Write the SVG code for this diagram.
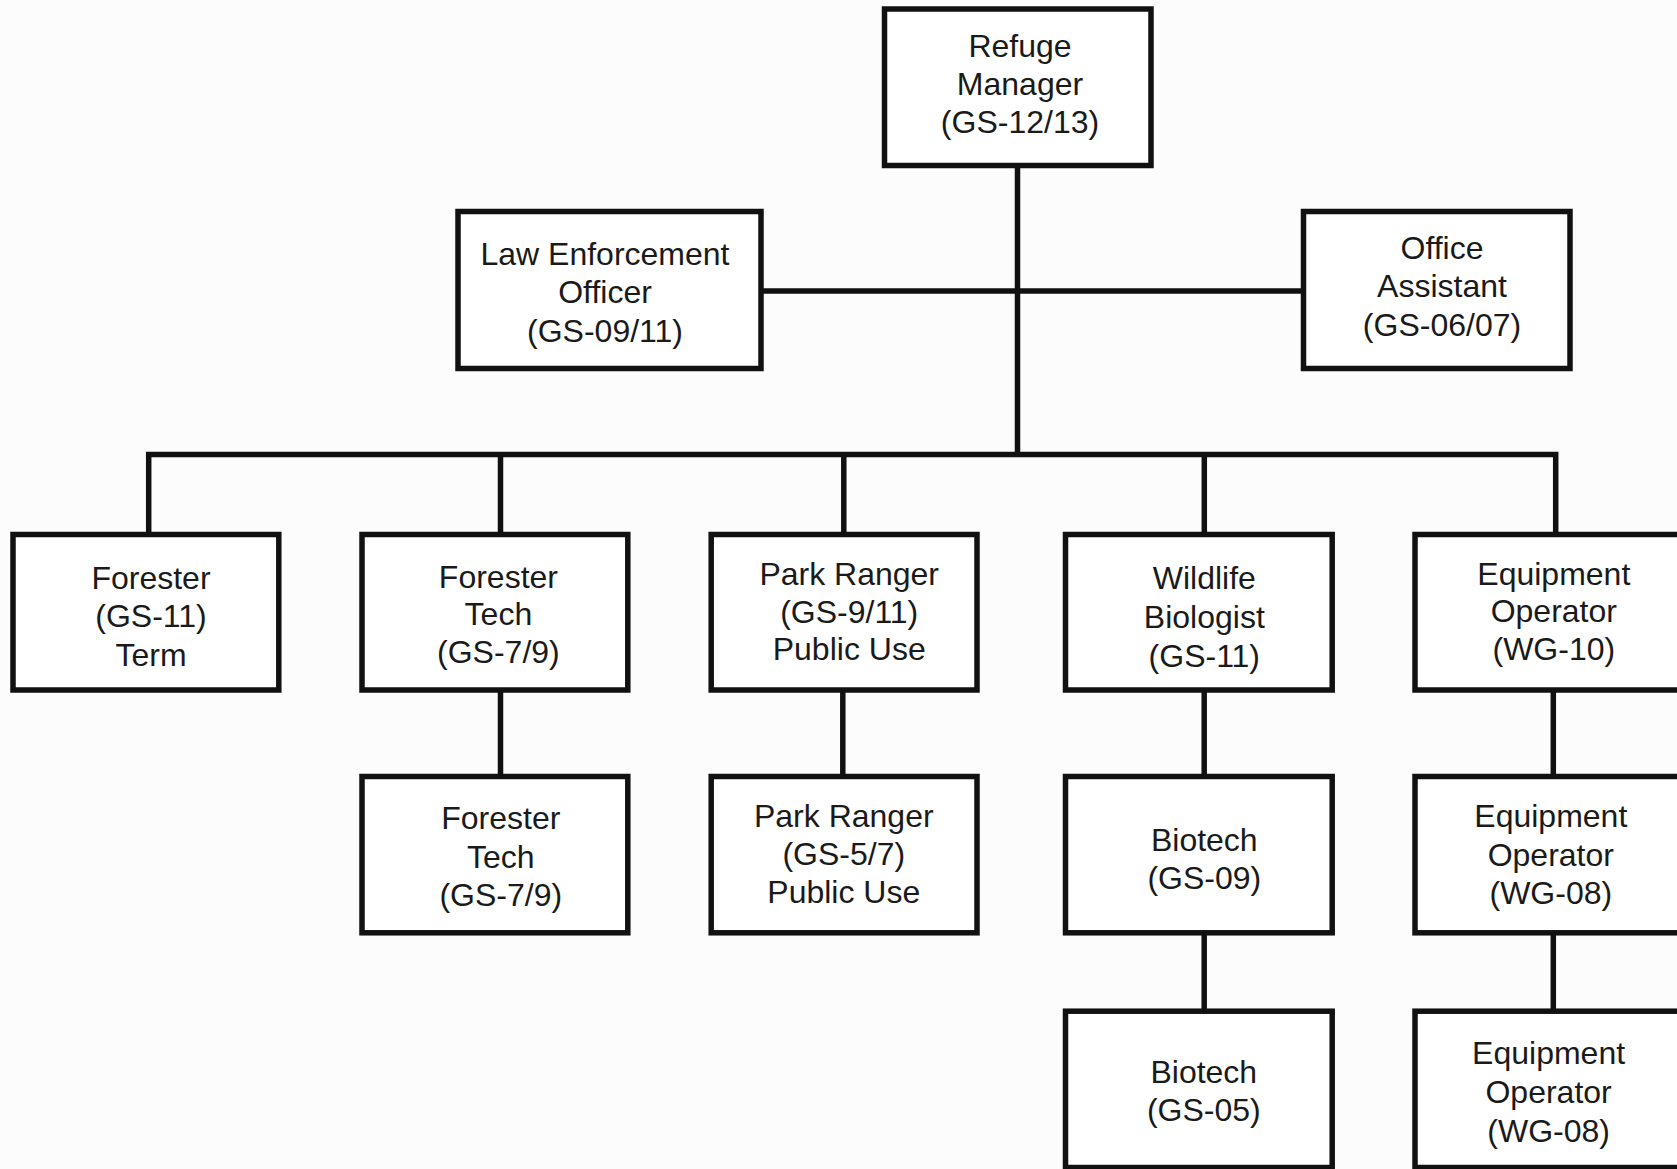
<svg xmlns="http://www.w3.org/2000/svg" width="1677" height="1169" viewBox="0 0 1677 1169">
<style>
.box{fill:#ffffff;stroke:#111111;stroke-width:5.5}
.ln{fill:none;stroke:#111111;stroke-width:5.5;stroke-linejoin:miter;stroke-linecap:butt}
text{font-family:"Liberation Sans",Arial,sans-serif;font-size:32px;fill:#1a1a1a;text-anchor:middle}
</style>
<rect width="1677" height="1169" fill="#fcfcfc"/>
<g id="connectors">
<path class="ln" d="M1017.5,165.5 V454.5"/>
<path class="ln" d="M761,291 H1303.5"/>
<path class="ln" d="M148.7,534.5 V454.5 H1555.7 V534.5"/>
<path class="ln" d="M500.5,454.5 V534.5"/>
<path class="ln" d="M843.8,454.5 V534.5"/>
<path class="ln" d="M1204.3,454.5 V534.5"/>
<path class="ln" d="M500.5,690 V776.5"/>
<path class="ln" d="M842.8,690 V776.5"/>
<path class="ln" d="M1204.2,690 V776.5"/>
<path class="ln" d="M1553.3,690 V776.5"/>
<path class="ln" d="M1204.2,932.8 V1011.2"/>
<path class="ln" d="M1553.3,932.8 V1011.2"/>
</g>
<g id="refuge-manager">
<rect class="box" x="884.5" y="9" width="266.5" height="156.5"/>
<text x="1020" y="57">Refuge</text>
<text x="1020" y="95">Manager</text>
<text x="1020" y="132.5">(GS-12/13)</text>
</g>
<g id="law-enforcement">
<rect class="box" x="458" y="211.5" width="303" height="157"/>
<text x="605" y="264.5">Law Enforcement</text>
<text x="605" y="303">Officer</text>
<text x="605" y="341.5">(GS-09/11)</text>
</g>
<g id="office-assistant">
<rect class="box" x="1303.5" y="211.5" width="266.5" height="157"/>
<text x="1442" y="258.5">Office</text>
<text x="1442" y="297">Assistant</text>
<text x="1442" y="335.5">(GS-06/07)</text>
</g>
<g id="forester">
<rect class="box" x="13" y="534.5" width="265.8" height="155.5"/>
<text x="151" y="589">Forester</text>
<text x="151" y="627">(GS-11)</text>
<text x="151" y="666">Term</text>
</g>
<g id="forester-tech-1">
<rect class="box" x="362" y="534.5" width="265.8" height="155.5"/>
<text x="498.4" y="587.5">Forester</text>
<text x="498.4" y="625">Tech</text>
<text x="498.4" y="663.4">(GS-7/9)</text>
</g>
<g id="park-ranger-1">
<rect class="box" x="711.2" y="534.5" width="265.8" height="155.5"/>
<text x="849.2" y="585">Park Ranger</text>
<text x="849.2" y="623">(GS-9/11)</text>
<text x="849.2" y="660">Public Use</text>
</g>
<g id="wildlife-biologist">
<rect class="box" x="1065.5" y="534.5" width="266.7" height="155.5"/>
<text x="1204.3" y="588.5">Wildlife</text>
<text x="1204.3" y="628">Biologist</text>
<text x="1204.3" y="666.6">(GS-11)</text>
</g>
<g id="equipment-operator-1">
<rect class="box" x="1415" y="534.5" width="266.7" height="155.5"/>
<text x="1553.8" y="585">Equipment</text>
<text x="1553.8" y="622">Operator</text>
<text x="1553.8" y="660">(WG-10)</text>
</g>
<g id="forester-tech-2">
<rect class="box" x="362" y="776.5" width="265.8" height="156.3"/>
<text x="500.8" y="829.3">Forester</text>
<text x="500.8" y="868">Tech</text>
<text x="500.8" y="905.7">(GS-7/9)</text>
</g>
<g id="park-ranger-2">
<rect class="box" x="711.2" y="776.5" width="265.8" height="156.3"/>
<text x="843.8" y="827">Park Ranger</text>
<text x="843.8" y="864.5">(GS-5/7)</text>
<text x="843.8" y="903">Public Use</text>
</g>
<g id="biotech-09">
<rect class="box" x="1065.5" y="776.5" width="266.7" height="156.3"/>
<text x="1204.3" y="850.5">Biotech</text>
<text x="1204.3" y="889">(GS-09)</text>
</g>
<g id="equipment-operator-2">
<rect class="box" x="1415" y="776.5" width="266.7" height="156.3"/>
<text x="1550.8" y="827">Equipment</text>
<text x="1550.8" y="865.5">Operator</text>
<text x="1550.8" y="904">(WG-08)</text>
</g>
<g id="biotech-05">
<rect class="box" x="1065.5" y="1011.2" width="266.7" height="156.3"/>
<text x="1203.8" y="1082.7">Biotech</text>
<text x="1203.8" y="1120.7">(GS-05)</text>
</g>
<g id="equipment-operator-3">
<rect class="box" x="1415" y="1011.2" width="266.7" height="156.3"/>
<text x="1548.6" y="1064.4">Equipment</text>
<text x="1548.6" y="1103">Operator</text>
<text x="1548.6" y="1141.5">(WG-08)</text>
</g>
</svg>
